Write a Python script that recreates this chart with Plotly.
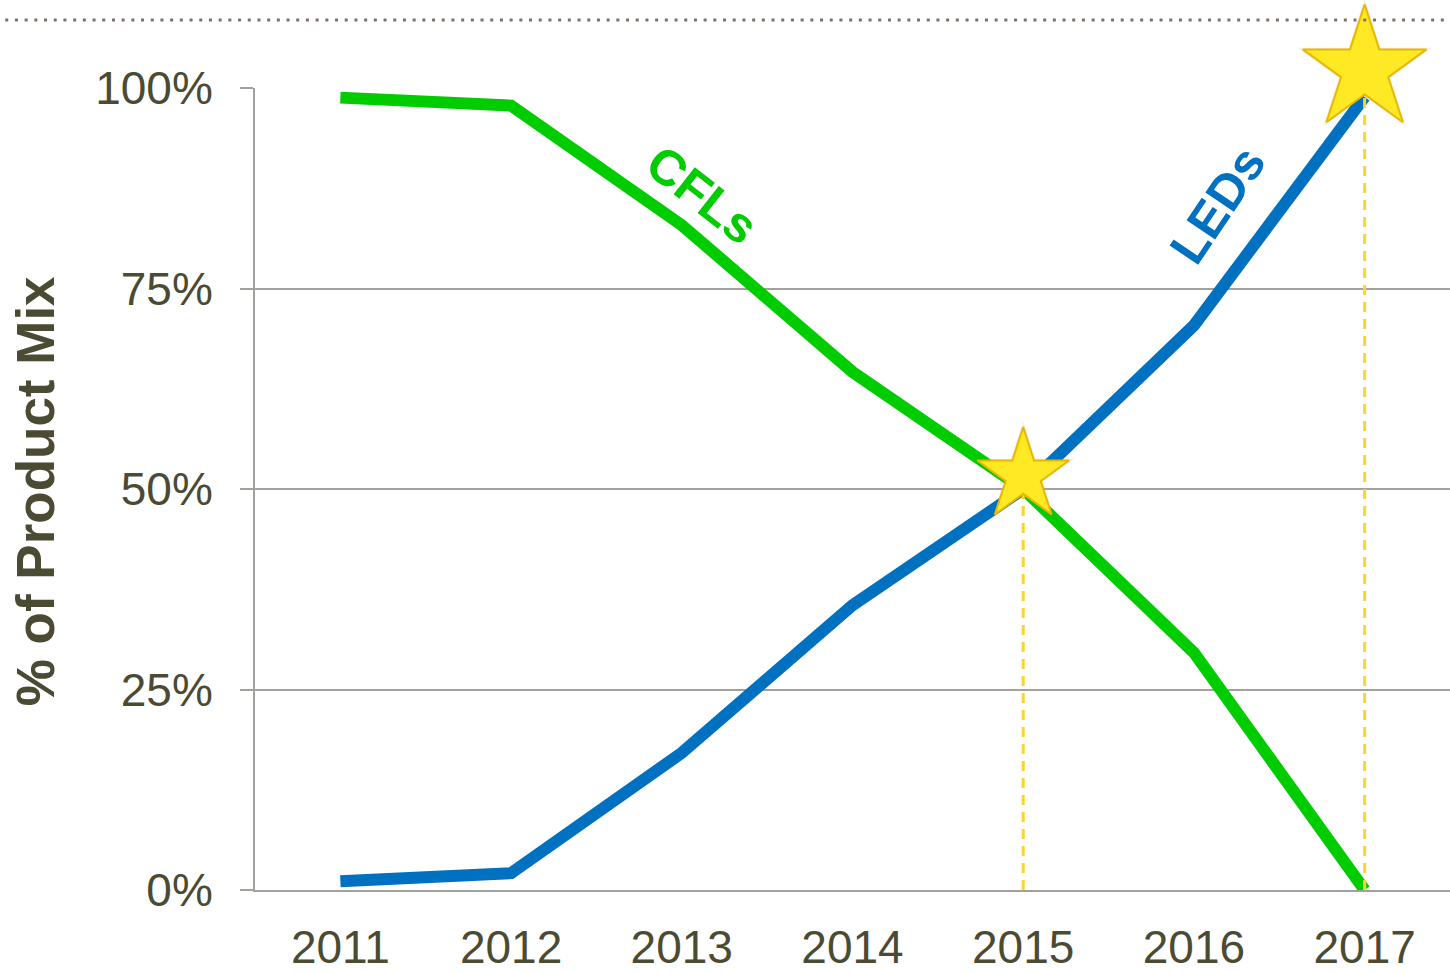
import plotly.graph_objects as go

years = ["2011", "2012", "2013", "2014", "2015", "2016", "2017"]
cfl_share = [98.8, 97.8, 82.9, 64.6, 50.0, 29.6, 0.0]
led_share = [1.1, 2.1, 17.1, 35.5, 50.0, 70.4, 98.9]
y_ticks = [0, 25, 50, 75, 100]
y_tick_labels = ["0%", "25%", "50%", "75%", "100%"]
star_years = ["2015", "2017"]
star_values = [51.7, 102.3]
star_sizes = [69, 93]

TXT = "#4b4a33"
GRID = "#a3a19b"
FONT = "Liberation Sans, Arial, sans-serif"

PLOT_H = 890.0      # plot area height in px (t=0, b=83)
MAIN_H = 802.0      # px from 0% to 100%
y2_top = 100 * PLOT_H / MAIN_H

fig = go.Figure()

fig.add_trace(go.Scatter(x=years, y=cfl_share, mode="lines",
                         line=dict(color="#00CC00", width=12),
                         cliponaxis=False, hoverinfo="skip"))
fig.add_trace(go.Scatter(x=years, y=led_share, mode="lines",
                         line=dict(color="#0070C0", width=12),
                         cliponaxis=False, hoverinfo="skip"))

for yr, val in zip(star_years, star_values):
    fig.add_trace(go.Scatter(x=[yr, yr], y=[0, val], mode="lines", yaxis="y2",
                             line=dict(color="#FFD42A", width=3, dash="10px,7px"),
                             cliponaxis=False, hoverinfo="skip"))

# soft shadow halo
fig.add_trace(go.Scatter(x=star_years, y=star_values, mode="markers", yaxis="y2",
                         marker=dict(symbol="star", size=[s + 8 for s in star_sizes],
                                     color="rgba(120,110,60,0.10)", opacity=1,
                                     line=dict(width=0)),
                         cliponaxis=False, hoverinfo="skip"))
fig.add_trace(go.Scatter(x=star_years, y=star_values, mode="markers", yaxis="y2",
                         marker=dict(symbol="star", size=star_sizes, opacity=1,
                                     color="#FFE824",
                                     line=dict(color="#E8B800", width=2)),
                         cliponaxis=False, hoverinfo="skip"))

fig.add_shape(type="line", xref="paper", yref="paper",
              x0=-0.209, x1=1.0, y0=(PLOT_H - 20) / PLOT_H, y1=(PLOT_H - 20) / PLOT_H,
              line=dict(color="#7d7168", width=3, dash="3px,6.7px"))

fig.add_annotation(text="<b>CFLs</b>", x=2.12, y=86.7, xref="x", yref="y",
                   showarrow=False, textangle=38,
                   font=dict(family=FONT, size=50, color="#00CC00"))
fig.add_annotation(text="<b>LEDs</b>", x=5.14, y=85.4, xref="x", yref="y",
                   showarrow=False, textangle=-56,
                   font=dict(family=FONT, size=50, color="#0070C0"))
fig.add_annotation(text="<b>% of Product Mix</b>", x=-0.183, y=(PLOT_H - 491) / PLOT_H,
                   xref="paper", yref="paper", showarrow=False, textangle=-90,
                   xanchor="center", yanchor="middle",
                   font=dict(family=FONT, size=53, color=TXT))

fig.update_layout(
    width=1450, height=973,
    margin=dict(l=255, r=0, t=0, b=83, autoexpand=False),
    paper_bgcolor="white", plot_bgcolor="rgba(0,0,0,0)",
    showlegend=False,
    font=dict(family=FONT, color=TXT),
    xaxis=dict(type="category", range=[-0.5, 6.5], showgrid=False,
               showline=True, linecolor=GRID, linewidth=2,
               ticks="", tickfont=dict(size=46, color=TXT), automargin=False,
               ticklabelstandoff=16, zeroline=False, fixedrange=True),
    yaxis=dict(range=[0, 100], domain=[0, MAIN_H / PLOT_H], automargin=False,
               tickvals=y_ticks, ticktext=y_tick_labels,
               showgrid=True, gridcolor=GRID, gridwidth=2,
               showline=True, linecolor=GRID, linewidth=2,
               ticks="outside", ticklen=13, tickcolor=GRID, tickwidth=2,
               tickfont=dict(size=46, color=TXT), ticklabelstandoff=18,
               zeroline=False, fixedrange=True),
    yaxis2=dict(range=[0, y2_top], domain=[0, 1], anchor="x", automargin=False,
                visible=False, fixedrange=True),
)

fig.write_html("out.html", post_script="document.body.style.margin='0';",
               config={"displayModeBar": False})
